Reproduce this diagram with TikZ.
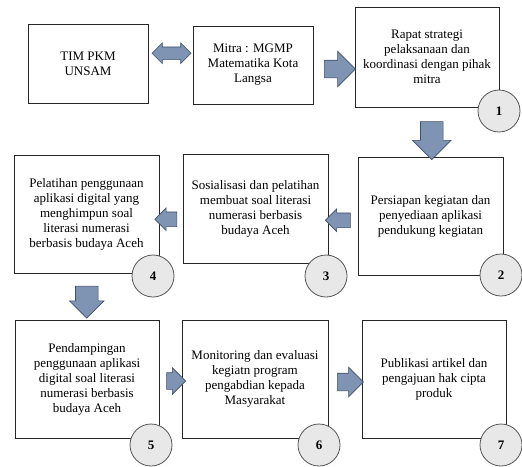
\documentclass[tikz,border=0pt]{standalone}
\usepackage{fontspec}
\setmainfont{Liberation Serif}
\usepackage{tikz}
\usetikzlibrary{shapes.arrows,calc}

\definecolor{arrowfill}{HTML}{7F93B2}
\definecolor{arrowline}{HTML}{3E4F6C}
\definecolor{circfill}{HTML}{E8E8E8}
\definecolor{circline}{HTML}{555555}

\begin{document}
\begin{tikzpicture}[x=1pt, y=-1pt, font=\fontsize{13}{15}\selectfont,
      box/.style={draw=black!85, line width=0.8pt, rectangle, align=center, inner sep=0pt},
      num/.style={circle, draw=circline, fill=circfill, line width=0.8pt, minimum size=42pt, inner sep=0pt, font=\fontsize{13}{15}\selectfont\bfseries},
      blockarrow/.style={single arrow, draw=arrowline, fill=arrowfill, line width=0.6pt, inner xsep=0pt, minimum width=0pt},
      dblarrow/.style={double arrow, draw=arrowline, fill=arrowfill, line width=0.6pt, inner xsep=0pt, minimum width=0pt}]
      \useasboundingbox (0,0) rectangle (522,466);
      % boxes
      \node (tim) [box, minimum width=120pt, minimum height=79pt] at (88,63.5) {TIM PKM\\UNSAM};
      \node (mitra) [box, minimum width=120pt, minimum height=78pt] at (253,65) {Mitra : MGMP\\Matematika Kota\\Langsa};
      \node (rapat) [box, minimum width=144pt, minimum height=100pt] at (427,57) {Rapat strategi\\pelaksanaan dan\\koordinasi dengan pihak\\mitra};
      \node (siap) [box, minimum width=145pt, minimum height=118pt] at (430.5,216) {Persiapan kegiatan dan\\penyediaan aplikasi\\pendukung kegiatan};
      \node (sosial) [box, minimum width=145pt, minimum height=109pt] at (255.5,208.5) {Sosialisasi dan pelatihan\\membuat soal literasi\\numerasi berbasis\\budaya Aceh};
      \node (latih) [box, minimum width=145pt, minimum height=118pt] at (86.5,214) {Pelatihan penggunaan\\aplikasi digital yang\\menghimpun soal\\literasi numerasi\\berbasis budaya Aceh};
      \node (damping) [box, minimum width=144pt, minimum height=118pt] at (87,379) {Pendampingan\\penggunaan aplikasi\\digital soal literasi\\numerasi berbasis\\budaya Aceh};
      \node (monev) [box, minimum width=146pt, minimum height=118pt] at (255,379) {Monitoring dan evaluasi\\kegiatn program\\pengabdian kepada\\Masyarakat};
      \node (publik) [box, minimum width=144pt, minimum height=118pt] at (434,379) {Publikasi artikel dan\\pengajuan hak cipta\\produk};

      % step numbers
      \node (n1) [num] at (499,111) {1};
      \node (n2) [num] at (501,275) {2};
      \node (n3) [num] at (326,276) {3};
      \node (n4) [num] at (153,276) {4};
      \node (n5) [num] at (151,445) {5};
      \node (n6) [num] at (319,445) {6};
      \node (n7) [num] at (501,445) {7};

      % block arrows
      \node (a01) [dblarrow, minimum height=39pt, inner ysep=6pt, double arrow head extend=4pt]
            at ($(tim.east)!0.5!(mitra.west)+(1,-11)$) {};
      \node (a02) [blockarrow, minimum height=31pt, inner ysep=8.5pt, single arrow head extend=9pt]
            at ($(mitra.east)!0.5!(rapat.west)+(1.5,8)$) {};
      \node (a12) [blockarrow, rotate=-90, minimum height=38pt, inner ysep=11pt, single arrow head extend=8pt]
            at ($(rapat.south)!0.5!(siap.north)+(3,3)$) {};
      \node (a23) [blockarrow, rotate=180, minimum height=25pt, inner ysep=7pt, single arrow head extend=4pt]
            at ($(siap.west)!0.5!(sosial.east)+(-1.5,8)$) {};
      \node (a34) [blockarrow, rotate=180, minimum height=22pt, inner ysep=7pt, single arrow head extend=4pt]
            at ($(sosial.west)!0.5!(latih.east)+(-1.5,8)$) {};
      \node (a45) [blockarrow, rotate=-90, minimum height=32pt, inner ysep=11pt, single arrow head extend=6pt]
            at ($(latih.south)!0.5!(damping.north)$) {};
      \node (a56) [blockarrow, minimum height=19pt, inner ysep=8pt, single arrow head extend=5pt]
            at ($(damping.east)!0.5!(monev.west)+(1.5,2)$) {};
      \node (a67) [blockarrow, minimum height=26pt, inner ysep=8.5pt, single arrow head extend=6pt]
            at ($(monev.east)!0.5!(publik.west)+(1,3)$) {};
\end{tikzpicture}
\end{document}
